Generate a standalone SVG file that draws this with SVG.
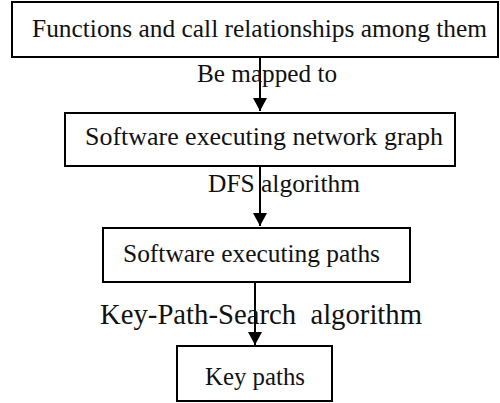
<svg xmlns="http://www.w3.org/2000/svg" width="500" height="403" viewBox="0 0 500 403">
  <style>
    .box { fill: #ffffff; stroke: #000000; stroke-width: 2; }
    .lbl { font-family: "Liberation Serif", "Times New Roman", serif; font-size: 25px; fill: #111111; }
    .big { font-size: 29px; }
    .edge { stroke: #000000; stroke-width: 2; fill: none; marker-end: url(#arrow); }
  </style>
  <defs>
    <!-- filled triangular arrowhead, tip at the end of the line -->
    <marker id="arrow" markerWidth="13" markerHeight="14" refX="13" refY="7" orient="auto" markerUnits="userSpaceOnUse" viewBox="0 0 13 14">
      <path d="M0,0 L13,7 L0,14 Z" fill="#000000"/>
    </marker>
  </defs>
  <rect width="500" height="403" fill="#ffffff"/>

  <g id="connectors">
    <line class="edge" x1="260" y1="58" x2="260" y2="111"/>
    <line class="edge" x1="260" y1="166" x2="260" y2="226"/>
    <line class="edge" x1="255" y1="282" x2="255" y2="345"/>
    <text class="lbl" x="197" y="82" textLength="140" lengthAdjust="spacingAndGlyphs">Be mapped to</text>
    <text class="lbl" x="208" y="192" textLength="152" lengthAdjust="spacingAndGlyphs">DFS algorithm</text>
    <text class="lbl big" x="100" y="324" textLength="322" lengthAdjust="spacingAndGlyphs" xml:space="preserve">Key-Path-Search  algorithm</text>
  </g>

  <g id="functions">
    <rect class="box" x="12" y="2" width="486" height="55"/>
    <text class="lbl" x="32" y="37" textLength="455" lengthAdjust="spacingAndGlyphs">Functions and call relationships among them</text>
  </g>

  <g id="network-graph">
    <rect class="box" x="65" y="113" width="390" height="53"/>
    <text class="lbl" x="85" y="145" textLength="358" lengthAdjust="spacingAndGlyphs">Software executing network graph</text>
  </g>

  <g id="executing-paths">
    <rect class="box" x="103" y="228" width="307" height="54"/>
    <text class="lbl" x="123" y="262" textLength="257" lengthAdjust="spacingAndGlyphs">Software executing paths</text>
  </g>

  <g id="key-paths">
    <rect class="box" x="177" y="346" width="155" height="55"/>
    <text class="lbl" x="205" y="385" textLength="100" lengthAdjust="spacingAndGlyphs">Key paths</text>
  </g>
</svg>
